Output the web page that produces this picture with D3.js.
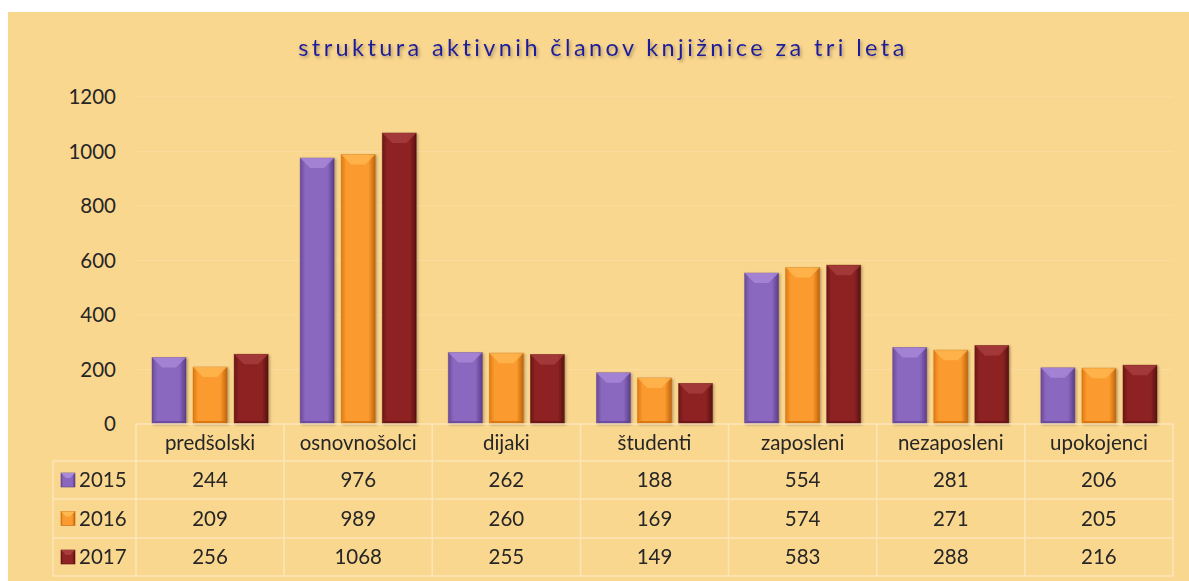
<!DOCTYPE html>
<html><head><meta charset="utf-8">
<script src="https://cdn.jsdelivr.net/npm/d3@7"></script>
<style>body{margin:0;background:#fff;} svg{display:block;}</style>
</head><body>
<svg id="c" width="1189" height="581"></svg>
<script>
const categories = ["predšolski","osnovnošolci","dijaki","študenti","zaposleni","nezaposleni","upokojenci"];
const seriesNames = ["2015","2016","2017"];
const v2015 = [244,976,262,188,554,281,206];
const v2016 = [209,989,260,169,574,271,205];
const v2017 = [256,1068,255,149,583,288,216];
const yTicks = [0,200,400,600,800,1000,1200];
const title = "struktura aktivnih članov knjižnice za tri leta";
const series = [v2015, v2016, v2017];
const colors = [
  {mid:"#8A67BF", edge:"#6A4A9A", hi:"#A98AD8", dark:"#5A3D88"},
  {mid:"#FB9A2E", edge:"#E07A10", hi:"#FFB850", dark:"#C0650A"},
  {mid:"#8E2424", edge:"#6E1515", hi:"#A83C3C", dark:"#5A1010"}
];

const svg = d3.select("#c");
const defs = svg.append("defs");
colors.forEach((c,i)=>{
  const g = defs.append("linearGradient").attr("id","g"+i).attr("x1","0").attr("x2","1").attr("y1","0").attr("y2","0");
  g.append("stop").attr("offset","0").attr("stop-color",c.edge);
  g.append("stop").attr("offset","0.15").attr("stop-color",c.mid);
  g.append("stop").attr("offset","0.8").attr("stop-color",c.mid);
  g.append("stop").attr("offset","1").attr("stop-color",c.dark);
});
const f = defs.append("filter").attr("id","ts").attr("x","-5%").attr("y","-30%").attr("width","110%").attr("height","180%");
f.append("feDropShadow").attr("dx",1.5).attr("dy",2).attr("stdDeviation",1.5).attr("flood-color","#7a6a50").attr("flood-opacity",0.6);
const bs = defs.append("filter").attr("id","bs").attr("x","-20%").attr("y","-10%").attr("width","150%").attr("height","130%");
bs.append("feDropShadow").attr("dx",1.5).attr("dy",1).attr("stdDeviation",1.2).attr("flood-color","#6b5530").attr("flood-opacity",0.45);

// background
svg.append("rect").attr("x",8).attr("y",12).attr("width",1181).attr("height",569).attr("fill","#FAD78F");

const plotL = 136, plotR = 1173, plotT = 97, base = 424;
const x = d3.scaleBand().domain(categories).range([plotL,plotR]).paddingInner(0).paddingOuter(0);
const xs = d3.scaleBand().domain(seriesNames).range([16, x.bandwidth()-16]).paddingInner(0.171).paddingOuter(0);
const y = d3.scaleLinear().domain([0,1200]).range([base, plotT]);

// gridlines
svg.append("g").selectAll("line").data(yTicks.filter(t=>t>0)).join("line")
  .attr("x1",plotL).attr("x2",plotR).attr("y1",d=>y(d)).attr("y2",d=>y(d))
  .attr("stroke","#FCDC9C").attr("stroke-width",1);

const font = "Lato, 'Open Sans', sans-serif";
const fs = 20.5;
// y axis labels
const yAxis = d3.axisLeft(y).tickValues(yTicks).tickFormat(d3.format("d")).tickSize(0).tickPadding(0);
const ya = svg.append("g").attr("transform",`translate(116,0)`).call(yAxis);
ya.select(".domain").remove();
ya.selectAll("text").attr("font-family",font).attr("font-size",fs).attr("fill","#262626");

// bars
series.forEach((vals,si)=>{
  const c = colors[si];
  const g = svg.append("g").attr("filter","url(#bs)");
  const bw = xs.bandwidth();
  categories.forEach((cat,ci)=>{
    const x0 = x(cat)+xs(seriesNames[si]);
    const y0 = y(vals[ci]);
    const h = base - y0;
    g.append("rect").attr("x",x0).attr("y",y0).attr("width",bw).attr("height",h)
      .attr("fill",`url(#g${si})`).attr("stroke",c.dark).attr("stroke-opacity",0.5).attr("stroke-width",0.8);
    const bv = Math.min(10, h/2);
    g.append("path").attr("d",`M${x0},${y0} L${x0+bw},${y0} L${x0+bw-bv},${y0+bv} L${x0+bv},${y0+bv} Z`)
      .attr("fill",c.hi).attr("opacity",0.8);
    g.append("path").attr("d",`M${x0},${base} L${x0+bw},${base} L${x0+bw-3},${base-3} L${x0+3},${base-3} Z`)
      .attr("fill",c.dark).attr("opacity",0.6);
  });
});

// data table
const rows = [base, 461, 499, 538, 576];
const lineCol = "#FCE6B8";
const tg = svg.append("g");
const vx = [plotL].concat(categories.map(c=>x(c)+x.bandwidth()));
vx.forEach(vxx=>{
  tg.append("line").attr("x1",vxx).attr("x2",vxx).attr("y1",base).attr("y2",rows[4]).attr("stroke",lineCol).attr("stroke-width",1.5);
});
tg.append("line").attr("x1",53).attr("x2",53).attr("y1",rows[1]).attr("y2",rows[4]).attr("stroke",lineCol).attr("stroke-width",1.5);
tg.append("line").attr("x1",plotL).attr("x2",plotR).attr("y1",base).attr("y2",base).attr("stroke",lineCol).attr("stroke-width",1.5);
rows.slice(1).forEach(ry=>{
  tg.append("line").attr("x1",53).attr("x2",plotR).attr("y1",ry).attr("y2",ry).attr("stroke",lineCol).attr("stroke-width",1.5);
});
tg.selectAll("text.hdr").data(categories).join("text").attr("class","hdr")
  .attr("x",d=>x(d)+x.bandwidth()/2).attr("y",(rows[0]+rows[1])/2+7)
  .attr("text-anchor","middle").attr("font-family",font).attr("font-size",fs).attr("fill","#262626").text(d=>d);
series.forEach((vals,si)=>{
  const cy = (rows[si+1]+rows[si+2])/2;
  tg.append("g").selectAll("text").data(vals).join("text")
    .attr("x",(d,i)=>x(categories[i])+x.bandwidth()/2).attr("y",cy+7)
    .attr("text-anchor","middle").attr("font-family",font).attr("font-size",fs).attr("fill","#262626").text(d=>d);
  const c = colors[si];
  tg.append("rect").attr("x",61).attr("y",cy-7).attr("width",14).attr("height",14).attr("fill",`url(#g${si})`).attr("stroke",c.dark).attr("stroke-width",0.6);
  tg.append("path").attr("d",`M61,${cy-7} L75,${cy-7} L70,${cy-2} L66,${cy-2} Z`).attr("fill",c.hi);
  tg.append("text").attr("x",79).attr("y",cy+7).attr("font-family",font).attr("font-size",fs).attr("fill","#262626").text(seriesNames[si]);
});

// title
svg.append("text").attr("x",603).attr("y",56).attr("text-anchor","middle")
  .attr("font-family",font).attr("font-size",23.5).attr("letter-spacing",3.4)
  .attr("fill","#1C1C9A").attr("filter","url(#ts)").text(title);
</script>
</body></html>
